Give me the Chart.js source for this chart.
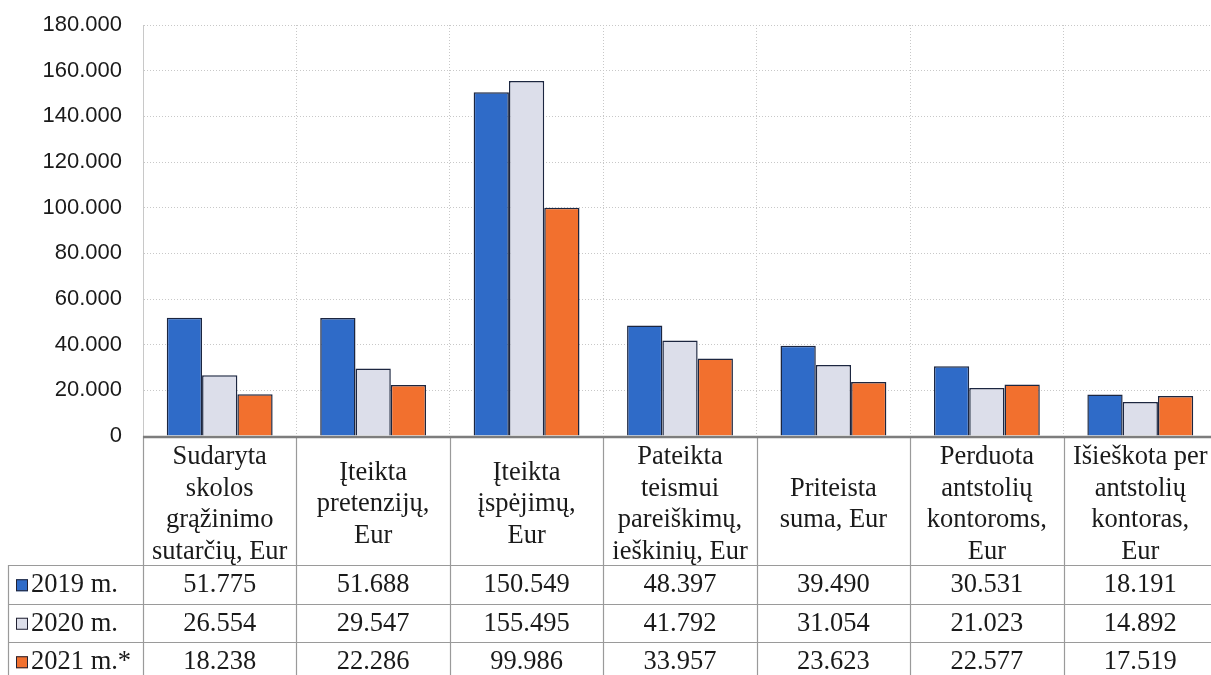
<!DOCTYPE html>
<html>
<head>
<meta charset="utf-8">
<script src="https://cdn.jsdelivr.net/npm/chart.js@4.4.1/dist/chart.umd.min.js"></script>
<style>
  html, body { margin: 0; padding: 0; background: #fff; overflow: hidden; }
  canvas { display: block; }
</style>
</head>
<body>
<canvas id="chart" width="1220" height="675"></canvas>
<script>
// category names as shown in the table header (one entry per line)
const categories = [
    ['Sudaryta', 'skolos', 'grąžinimo', 'sutarčių, Eur'],
    ['Įteikta', 'pretenzijų,', 'Eur'],
    ['Įteikta', 'įspėjimų,', 'Eur'],
    ['Pateikta', 'teismui', 'pareiškimų,', 'ieškinių, Eur'],
    ['Priteista', 'suma, Eur'],
    ['Perduota', 'antstolių', 'kontoroms,', 'Eur'],
    ['Išieškota per', 'antstolių', 'kontoras,', 'Eur']
];
const seriesNames = ['2019 m.', '2020 m.', '2021 m.*'];
const values2019 = [51775, 51688, 150549, 48397, 39490, 30531, 18191];
const values2020 = [26554, 29547, 155495, 41792, 31054, 21023, 14892];
const values2021 = [18238, 22286, 99986, 33957, 23623, 22577, 17519];
const yTicks = [0, 20000, 40000, 60000, 80000, 100000, 120000, 140000, 160000, 180000];

const colors = ['#2f6bc8', '#dcdeea', '#f2702e'];
const allValues = [values2019, values2020, values2021];

// 51775 -> "51.775"
function fmt(v) {
    return String(v).replace(/\B(?=(\d{3})+(?!\d))/g, '.');
}

// draws the data table under the plot, aligned with the category axis
const tablePlugin = {
    id: 'dataTable',
    afterDraw(chart) {
        const ctx = chart.ctx;
        const xs = chart.scales.x;
        const top = chart.chartArea.bottom;
        const colW = xs.width / categories.length;
        const headerBottom = top + 129;
        const rowH = 38.5;
        const left = 8;
        const right = chart.width;
        const bottom = chart.height;

        ctx.save();

        // grid of the table
        ctx.strokeStyle = '#9a9a9a';
        ctx.lineWidth = 1.2;
        ctx.beginPath();
        for (let i = 0; i <= categories.length; i++) {
            const bx = Math.round(xs.left + i * colW) + 0.5;
            ctx.moveTo(bx, top);
            ctx.lineTo(bx, bottom);
        }
        ctx.moveTo(left + 0.5, headerBottom);
        ctx.lineTo(left + 0.5, bottom);
        for (let r = 0; r < seriesNames.length; r++) {
            const ry = Math.round(headerBottom + r * rowH) + 0.5;
            ctx.moveTo(left, ry);
            ctx.lineTo(right, ry);
        }
        ctx.stroke();

        // axis line on top of the table
        ctx.strokeStyle = '#7d7d7d';
        ctx.lineWidth = 2.5;
        ctx.beginPath();
        ctx.moveTo(xs.left, top + 1);
        ctx.lineTo(right, top + 1);
        ctx.stroke();

        ctx.fillStyle = '#1a1a1a';
        ctx.font = '26.5px "Liberation Serif", "Times New Roman", serif';
        ctx.textAlign = 'center';
        ctx.textBaseline = 'middle';

        // header
        const lineH = 31.5;
        const headerMid = (top + headerBottom) / 2 + 4;
        categories.forEach((lines, i) => {
            const cx = xs.getPixelForValue(i);
            const y0 = headerMid - (lines.length - 1) * lineH / 2;
            lines.forEach((t, k) => ctx.fillText(t, cx, y0 + k * lineH));
        });

        // rows
        seriesNames.forEach((name, r) => {
            const cy = headerBottom + r * rowH + rowH / 2 + 1;
            ctx.fillStyle = colors[r];
            ctx.fillRect(16, cy - 6, 12, 12);
            ctx.strokeStyle = '#223';
            ctx.lineWidth = 1;
            ctx.strokeRect(16.5, cy - 5.5, 11, 11);
            ctx.fillStyle = '#1a1a1a';
            ctx.textAlign = 'left';
            ctx.fillText(name, 31, cy);
            ctx.textAlign = 'center';
            allValues[r].forEach((v, i) => {
                ctx.fillText(fmt(v), xs.getPixelForValue(i), cy);
            });
        });
        ctx.restore();
    }
};

const ctx = document.getElementById('chart').getContext('2d');

new Chart(ctx, {
    type: 'bar',
    data: {
        labels: categories.map(c => c.join(' ')),
        datasets: seriesNames.map((name, i) => ({
            label: name,
            data: allValues[i],
            backgroundColor: colors[i],
            borderColor: '#1c2640',
            borderWidth: 1.5,
            borderSkipped: 'bottom',
            categoryPercentage: 0.69,
            barPercentage: 1.0
        }))
    },
    options: {
        responsive: false,
        animation: false,
        devicePixelRatio: 1,
        layout: {
            padding: { top: 25, right: 3, bottom: 239, left: 0 }
        },
        plugins: {
            legend: { display: false },
            tooltip: { enabled: false }
        },
        scales: {
            x: {
                ticks: { display: false },
                grid: { offset: true, color: '#c8c8c8', lineWidth: 1, drawTicks: false },
                border: { display: false, dash: [1, 2] },
                afterFit: (scale) => { scale.height = 0; }
            },
            y: {
                min: 0,
                max: 180000,
                afterBuildTicks: (scale) => { scale.ticks = yTicks.map(v => ({ value: v })); },
                ticks: {
                    padding: 21,
                    color: '#1a1a1a',
                    // small lineHeight keeps the label overhang from pushing the plot top down
                    font: { family: '"Liberation Sans", Arial, sans-serif', size: 22, lineHeight: 0.3 },
                    callback: (v) => fmt(v)
                },
                grid: { color: '#c8c8c8', lineWidth: 1, drawTicks: false },
                border: { display: true, color: '#c8c8c8', dash: [1, 2] },
                afterFit: (scale) => { scale.width = 143; }
            }
        }
    },
    plugins: [tablePlugin]
});
</script>
</body>
</html>
